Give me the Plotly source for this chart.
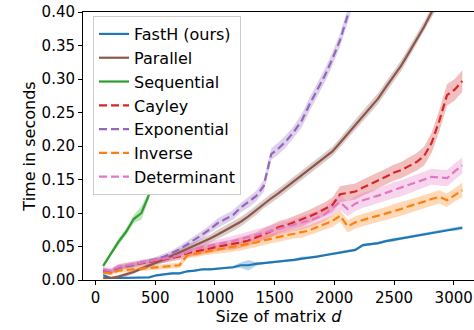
import plotly.graph_objects as go

sizes = [64 * (i + 1) for i in range(48)]
seq_sizes = sizes[:7]

fasth = [0.007, 0.003, 0.003, 0.003, 0.003, 0.004, 0.004, 0.007, 0.009, 0.010, 0.010, 0.013,
         0.014, 0.016, 0.016, 0.017, 0.018, 0.019, 0.022, 0.022, 0.024, 0.025, 0.026, 0.027,
         0.029, 0.030, 0.032, 0.033, 0.035, 0.037, 0.039, 0.041, 0.043, 0.045, 0.052, 0.053,
         0.055, 0.058, 0.060, 0.062, 0.064, 0.066, 0.068, 0.071, 0.073, 0.075, 0.076, 0.078]
fasth_sd = [0.0015, 0.001, 0.001, 0.001, 0.001, 0.001, 0.001, 0.0015, 0.0015, 0.0015, 0.0015, 0.0015,
            0.0015, 0.0015, 0.0015, 0.0015, 0.0015, 0.002, 0.004, 0.008, 0.003, 0.0015, 0.0015, 0.0015,
            0.0015, 0.002, 0.003, 0.002, 0.002, 0.002, 0.002, 0.002, 0.002, 0.002, 0.002, 0.002,
            0.002, 0.002, 0.003, 0.002, 0.002, 0.002, 0.002, 0.002, 0.002, 0.002, 0.003, 0.003]

parallel = [0.003, 0.003, 0.005, 0.008, 0.012, 0.017, 0.021, 0.026, 0.031, 0.036, 0.041, 0.046,
            0.051, 0.056, 0.062, 0.068, 0.074, 0.080, 0.087, 0.095, 0.104, 0.114, 0.122, 0.130,
            0.139, 0.148, 0.157, 0.166, 0.174, 0.183, 0.192, 0.205, 0.218, 0.232, 0.245, 0.258,
            0.271, 0.288, 0.304, 0.320, 0.339, 0.358, 0.378, 0.400, 0.420]
parallel_sd = [0.002, 0.002, 0.002, 0.003, 0.003, 0.003, 0.004, 0.004, 0.005, 0.005, 0.006, 0.006,
               0.006, 0.006, 0.006, 0.007, 0.007, 0.007, 0.007, 0.007, 0.007, 0.007, 0.007, 0.007,
               0.007, 0.007, 0.007, 0.007, 0.007, 0.007, 0.007, 0.007, 0.008, 0.008, 0.008, 0.008,
               0.008, 0.008, 0.008, 0.008, 0.008, 0.008, 0.008, 0.008, 0.008]

sequential = [0.021, 0.040, 0.057, 0.072, 0.091, 0.100, 0.127]
sequential_sd = [0.003, 0.004, 0.005, 0.005, 0.006, 0.010, 0.006]

cayley = [0.014, 0.012, 0.019, 0.021, 0.023, 0.025, 0.027, 0.029, 0.031, 0.033, 0.035, 0.040,
          0.042, 0.045, 0.047, 0.050, 0.052, 0.053, 0.056, 0.059, 0.063, 0.068, 0.073, 0.079,
          0.082, 0.086, 0.090, 0.095, 0.100, 0.106, 0.112, 0.128, 0.130, 0.132, 0.138, 0.143,
          0.148, 0.154, 0.160, 0.164, 0.170, 0.176, 0.185, 0.205, 0.238, 0.276, 0.284, 0.297]
cayley_sd = [0.004, 0.004, 0.004, 0.004, 0.004, 0.004, 0.004, 0.005, 0.005, 0.005, 0.005, 0.006,
             0.006, 0.007, 0.007, 0.007, 0.007, 0.008, 0.008, 0.008, 0.008, 0.009, 0.009, 0.009,
             0.009, 0.009, 0.010, 0.010, 0.010, 0.010, 0.011, 0.012, 0.012, 0.012, 0.012, 0.012,
             0.012, 0.012, 0.012, 0.012, 0.013, 0.013, 0.014, 0.015, 0.016, 0.016, 0.016, 0.016]

exponential = [0.012, 0.012, 0.018, 0.020, 0.022, 0.026, 0.028, 0.031, 0.035, 0.040, 0.046, 0.053,
               0.060, 0.068, 0.076, 0.085, 0.091, 0.097, 0.108, 0.116, 0.125, 0.140, 0.188, 0.197,
               0.208, 0.222, 0.238, 0.262, 0.283, 0.305, 0.330, 0.358, 0.395, 0.430]
exponential_sd = [0.003, 0.003, 0.003, 0.003, 0.003, 0.003, 0.003, 0.004, 0.004, 0.004, 0.005, 0.005,
                  0.006, 0.006, 0.006, 0.007, 0.007, 0.007, 0.007, 0.008, 0.008, 0.009, 0.009, 0.009,
                  0.009, 0.009, 0.010, 0.010, 0.010, 0.010, 0.010, 0.010, 0.010, 0.010]

inverse = [0.011, 0.010, 0.014, 0.015, 0.016, 0.017, 0.018, 0.019, 0.020, 0.021, 0.022, 0.037,
           0.039, 0.042, 0.044, 0.045, 0.047, 0.049, 0.051, 0.053, 0.056, 0.059, 0.062, 0.064,
           0.067, 0.069, 0.071, 0.074, 0.079, 0.083, 0.088, 0.096, 0.080, 0.086, 0.090, 0.093,
           0.096, 0.099, 0.103, 0.106, 0.110, 0.113, 0.117, 0.121, 0.124, 0.119, 0.127, 0.134]
inverse_sd = [0.003, 0.003, 0.003, 0.003, 0.003, 0.003, 0.003, 0.003, 0.003, 0.004, 0.004, 0.005,
              0.005, 0.006, 0.006, 0.006, 0.007, 0.007, 0.007, 0.007, 0.007, 0.007, 0.007, 0.007,
              0.007, 0.007, 0.008, 0.008, 0.008, 0.008, 0.009, 0.009, 0.009, 0.009, 0.009, 0.009,
              0.009, 0.010, 0.010, 0.010, 0.010, 0.010, 0.010, 0.010, 0.010, 0.010, 0.010, 0.011]

determinant = [0.016, 0.014, 0.020, 0.022, 0.024, 0.026, 0.027, 0.029, 0.031, 0.034, 0.037, 0.042,
               0.046, 0.049, 0.051, 0.053, 0.056, 0.058, 0.061, 0.064, 0.067, 0.070, 0.073, 0.076,
               0.079, 0.082, 0.085, 0.089, 0.093, 0.098, 0.108, 0.116, 0.106, 0.114, 0.119, 0.122,
               0.126, 0.130, 0.134, 0.137, 0.141, 0.145, 0.150, 0.154, 0.153, 0.152, 0.162, 0.171]
determinant_sd = [0.004, 0.004, 0.004, 0.004, 0.004, 0.004, 0.004, 0.005, 0.005, 0.005, 0.005, 0.006,
                  0.006, 0.007, 0.007, 0.007, 0.007, 0.008, 0.008, 0.008, 0.008, 0.009, 0.009, 0.009,
                  0.009, 0.009, 0.010, 0.010, 0.010, 0.010, 0.011, 0.011, 0.011, 0.011, 0.011, 0.011,
                  0.011, 0.011, 0.012, 0.012, 0.012, 0.012, 0.012, 0.012, 0.012, 0.012, 0.012, 0.012]

series = [
    ("FastH (ours)", sizes, fasth, fasth_sd, "#1f77b4", "rgba(31,119,180,0.3)", "solid"),
    ("Parallel", sizes, parallel, parallel_sd, "#8c564b", "rgba(140,86,75,0.3)", "solid"),
    ("Sequential", seq_sizes, sequential, sequential_sd, "#2ca02c", "rgba(44,160,44,0.3)", "solid"),
    ("Cayley", sizes, cayley, cayley_sd, "#d62728", "rgba(214,39,40,0.3)", "8px,4px"),
    ("Exponential", sizes, exponential, exponential_sd, "#9467bd", "rgba(148,103,189,0.3)", "8px,4px"),
    ("Inverse", sizes, inverse, inverse_sd, "#ff7f0e", "rgba(255,127,14,0.3)", "8px,4px"),
    ("Determinant", sizes, determinant, determinant_sd, "#e377c2", "rgba(227,119,194,0.3)", "8px,4px"),
]

fig = go.Figure()
for name, xs, ys, sd, col, fcol, dash in series:
    n = len(ys)
    xx = xs[:n]
    upper = [y + s for y, s in zip(ys, sd)]
    lower = [y - s for y, s in zip(ys, sd)]
    fig.add_trace(go.Scatter(
        x=xx + xx[::-1], y=upper + lower[::-1], fill="toself", fillcolor=fcol,
        line=dict(width=0), mode="lines", showlegend=False, hoverinfo="skip",
        legendgroup=name))
for name, xs, ys, sd, col, fcol, dash in series:
    n = len(ys)
    fig.add_trace(go.Scatter(
        x=xs[:n], y=ys, mode="lines", name=name, legendgroup=name,
        line=dict(color=col, width=2.2, dash=dash)))

font = "DejaVu Sans"
fig.update_layout(
    width=474, height=330,
    margin=dict(l=83, r=0, t=12, b=50),
    paper_bgcolor="white", plot_bgcolor="white",
    font=dict(family=font, size=16, color="black"),
    showlegend=True,
    legend=dict(x=0.0256, y=0.985, xanchor="left", yanchor="top",
                bgcolor="rgba(255,255,255,0.8)", bordercolor="#cccccc", borderwidth=1,
                font=dict(family=font, size=16, color="black"),
                tracegroupgap=3, traceorder="normal"),
    xaxis=dict(range=[-105, 3170], tickvals=[0, 500, 1000, 1500, 2000, 2500, 3000],
               automargin=False,
               ticks="outside", ticklen=4, tickwidth=1, tickcolor="black",
               showline=True, linecolor="black", linewidth=1, mirror=True,
               showgrid=False, zeroline=False,
               tickfont=dict(family=font, size=15, color="black"),
               title=dict(text="Size of matrix <i>d</i>", font=dict(family=font, size=16), standoff=0)),
    yaxis=dict(range=[0, 0.40], tickvals=[0, 0.05, 0.10, 0.15, 0.20, 0.25, 0.30, 0.35, 0.40],
               tickformat=".2f", automargin=False,
               ticks="outside", ticklen=4, tickwidth=1, tickcolor="black",
               showline=True, linecolor="black", linewidth=1,
               showgrid=False, zeroline=False,
               tickfont=dict(family=font, size=15, color="black"),
               title=dict(text="Time in seconds", font=dict(family=font, size=16), standoff=1)),
)

fig.write_html("out.html", config={"displayModeBar": False},
               post_script="document.body.style.margin='0px';")
